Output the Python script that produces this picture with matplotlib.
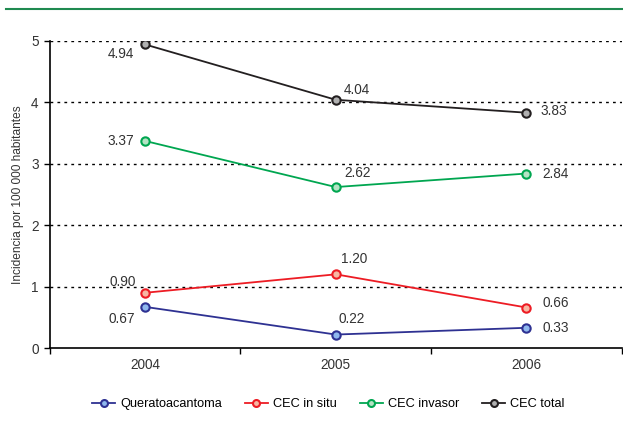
import matplotlib.pyplot as plt
from matplotlib.lines import Line2D

plt.rcParams['font.family'] = ['Liberation Sans', 'DejaVu Sans']

years = ['2004', '2005', '2006']
quer = [0.67, 0.22, 0.33]
insitu = [0.90, 1.20, 0.66]
invasor = [3.37, 2.62, 2.84]
total = [4.94, 4.04, 3.83]

names = ['Queratoacantoma', 'CEC in situ', 'CEC invasor', 'CEC total']
series = [quer, insitu, invasor, total]
edge = ['#2e3192', '#ed1c24', '#00a650', '#231f20']
fill = ['#8fb8ee', '#f7b7a3', '#b5e3c4', '#b0b0b0']

# label offsets (points) per series / per year: (dx, dy, ha)
offsets = [
    [(-7, -8.5, 'right'), (2, 11.5, 'left'), (11.5, 0, 'left')],
    [(-7, 8, 'right'), (4, 11, 'left'), (11.5, 3, 'left')],
    [(-8, 0, 'right'), (6, 10, 'left'), (11.5, 0, 'left')],
    [(-8, -6.5, 'right'), (6, 7, 'left'), (10, 1, 'left')],
]

fig = plt.figure(figsize=(6.23, 4.34), dpi=100)
ax = fig.add_axes([0.080, 0.198, 0.918, 0.708])

x = list(range(len(years)))
for vals, name, ec, fc, offs in zip(series, names, edge, fill, offsets):
    ax.plot(x, vals, color=ec, lw=1.3, marker='o', ms=6, mfc=fc, mec=ec,
            mew=1.5, label=name, zorder=3)
    for xi, v, (dx, dy, ha) in zip(x, vals, offs):
        ax.annotate(f'{v:.2f}', (xi, v), xytext=(dx, dy), textcoords='offset points',
                    ha=ha, va='center', fontsize=9.8, color='#333333')

ax.set_xlim(-0.5, 2.5)
ax.set_ylim(0, 5)
ax.set_yticks([0, 1, 2, 3, 4, 5])
ax.set_xticks(x)
ax.set_xticklabels(years)
ax.set_xticks([-0.5, 0.5, 1.5, 2.5], minor=True)
ax.tick_params(axis='x', which='major', length=0, pad=7, labelsize=9.8, labelcolor='#333333')
ax.tick_params(axis='x', which='minor', length=4, direction='out', width=1)
ax.tick_params(axis='y', length=4, direction='out', width=1, labelsize=9.8,
               labelcolor='#333333', pad=4)
for v in [1, 2, 3, 4, 5]:
    ax.axhline(v, color='black', lw=1, ls=(0, (2, 3)), zorder=1)
for s in ['top', 'right']:
    ax.spines[s].set_visible(False)
for s in ['left', 'bottom']:
    ax.spines[s].set_linewidth(1.2)
ax.set_ylabel('Incidencia por 100 000 habitantes', fontsize=8.6, color='#333333', labelpad=5)

leg = fig.legend(loc='center', bbox_to_anchor=(0.527, 0.069), ncol=4, frameon=False,
                 fontsize=9.2, handlelength=1.8, columnspacing=1.8, handletextpad=0.4)
for h in leg.legend_handles:
    h.set_markersize(5)

fig.add_artist(Line2D([0.01, 1.0], [0.979, 0.979], color='#1f8a50', lw=1.5,
                      transform=fig.transFigure))

fig.savefig('out.png', dpi=100)
